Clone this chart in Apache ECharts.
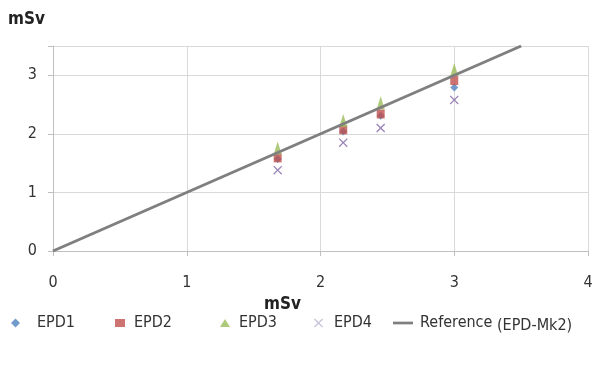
<!DOCTYPE html>
<html>
<head>
<meta charset="utf-8">
<script src="https://cdn.jsdelivr.net/npm/echarts@6/dist/echarts.min.js"></script>
<style>
  html, body { margin: 0; padding: 0; background: #fff; }
  #chart { width: 593px; height: 365px; }
</style>
</head>
<body>
<div id="chart"></div>
<script>
// doses measured against the reference (mSv)
const refDose = [1.68, 2.17, 2.45, 3.0];
const epd1 = [1.57, 2.04, 2.31, 2.79];
const epd2 = [1.59, 2.07, 2.34, 2.91];
const epd3 = [1.76, 2.23, 2.53, 3.10];
const epd4 = [1.38, 1.85, 2.10, 2.58];
const refLine = [[0, 0], [3.5, 3.5]];
const xTicks = [0, 1, 2, 3, 4];
const yTicks = [0, 1, 2, 3];

const font = '"DejaVu Sans Condensed", "Liberation Sans Narrow", sans-serif';
const crossPath = 'path://M0,1L1,0L5,4L9,0L10,1L6,5L10,9L9,10L5,6L1,10L0,9L4,5Z';

function pairs(ys) {
  return refDose.map((x, i) => [x, ys[i]]);
}

// one legend box per entry so the spacing follows the original
function legendItem(name, left, icon, color, textPad, w, h) {
  return {
    left: left,
    top: 310,
    itemWidth: w || 10,
    itemHeight: h || 8,
    textStyle: {
      fontSize: 16, color: '#333', fontFamily: font, padding: [0, 0, 0, textPad],
      rich: { s: { fontSize: 16, color: '#333', fontFamily: font, padding: [5, 0, 0, 0] } }
    },
    formatter: n => n === 'Reference' ? 'Reference {s|(EPD-Mk2)}' : n,
    data: [{ name: name, icon: icon, itemStyle: { color: color } }]
  };
}

const chart = echarts.init(document.getElementById('chart'));

const option = {
  animation: false,
  textStyle: { fontFamily: font },
  grid: { left: 53, right: 5, top: 46, bottom: 114, outerBoundsMode: 'none' },
  legend: [
    legendItem('EPD1', 6, 'diamond', '#4F81BD', 12, 9, 9),
    legendItem('EPD2', 110, 'rect', '#C0504D', 4),
    legendItem('EPD3', 215, 'triangle', '#9BBB59', 4),
    legendItem('EPD4', 309, crossPath, '#B9B4D0', 6, 9, 9),
    legendItem('Reference', 388, 'path://M0,0L22,0L22,3L0,3Z', '#7f7f7f', 2, 20, 3)
  ],
  xAxis: {
    type: 'value',
    min: 0, max: 4, interval: 1,
    name: 'mSv',
    nameLocation: 'middle',
    nameGap: 43,
    nameTextStyle: { fontSize: 17, fontWeight: 'bold', color: '#222', padding: [0, 76, 0, 0], fontFamily: font },
    axisLine: { show: true, lineStyle: { color: '#bfbfbf' } },
    axisTick: { show: true, length: 5, lineStyle: { color: '#bfbfbf' } },
    axisLabel: { fontSize: 16, color: '#333', margin: 24, formatter: v => xTicks.includes(v) ? String(v) : '' },
    splitLine: { show: true, lineStyle: { color: '#d9d9d9' } }
  },
  yAxis: {
    type: 'value',
    min: 0, max: 3.5, interval: 1,
    name: 'mSv',
    nameLocation: 'end',
    nameGap: 18,
    nameTextStyle: { fontSize: 17, fontWeight: 'bold', color: '#222', align: 'right', padding: [0, 8, 0, 0], fontFamily: font },
    axisLine: { show: true, lineStyle: { color: '#bfbfbf' } },
    axisTick: { show: true, length: 5, lineStyle: { color: '#bfbfbf' } },
    axisLabel: { fontSize: 16, color: '#333', margin: 16, formatter: v => yTicks.includes(v) ? String(v) : '' },
    splitLine: { show: true, lineStyle: { color: '#d9d9d9' } }
  },
  series: [
    {
      name: 'EPD4', type: 'scatter', data: pairs(epd4),
      symbol: crossPath, symbolSize: 9,
      itemStyle: { color: '#8064A2' }, z: 2
    },
    {
      name: 'EPD1', type: 'scatter', data: pairs(epd1),
      symbol: 'diamond', symbolSize: 8,
      itemStyle: { color: '#4F81BD' }, z: 3
    },
    {
      name: 'EPD2', type: 'scatter', data: pairs(epd2),
      symbol: 'rect', symbolSize: [8, 9],
      itemStyle: { color: '#C0504D' }, z: 4
    },
    {
      name: 'EPD3', type: 'scatter', data: pairs(epd3),
      symbol: 'triangle', symbolSize: [8, 13],
      itemStyle: { color: '#9BBB59' }, z: 5
    },
    {
      name: 'Reference', type: 'line', data: refLine,
      showSymbol: false, symbol: 'none',
      lineStyle: { color: '#7f7f7f', width: 3 },
      itemStyle: { color: '#7f7f7f' }, z: 6
    }
  ]
};

chart.setOption(option);

window.addEventListener('resize', function () {
  chart.resize();
});
</script>
</body>
</html>
